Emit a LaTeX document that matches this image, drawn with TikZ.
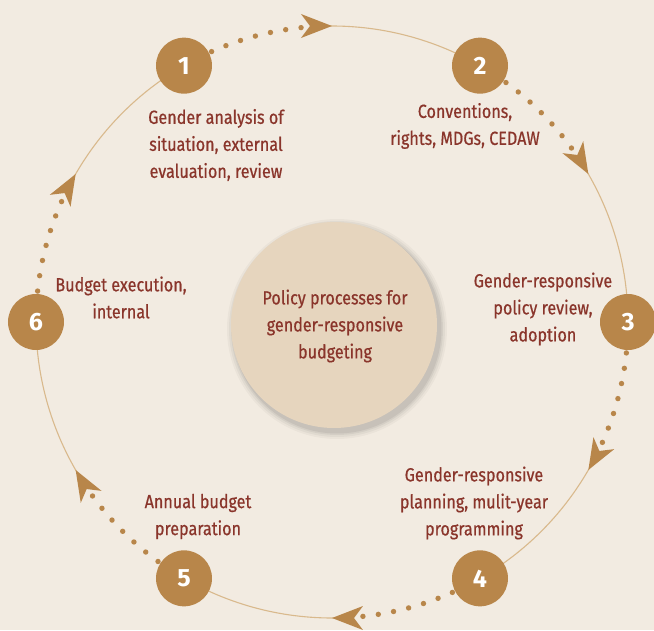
\documentclass[tikz,border=0pt]{standalone}
\usepackage{fontspec}
\setmainfont{Fira Sans}[FakeStretch=0.85,FakeBold=0.6]
\newfontfamily\numfont{Fira Sans}
\usetikzlibrary{arrows.meta}
\definecolor{bgc}{HTML}{F2EBE1}
\definecolor{nodec}{HTML}{B8864A}
\definecolor{txtc}{HTML}{8A352B}
\definecolor{linec}{HTML}{D9B98C}
\definecolor{midc}{HTML}{E6D5BE}
\tikzset{
  numnode/.style={circle, fill=nodec, minimum size=56pt, inner sep=0pt, text=white, font=\numfont\bfseries\fontsize{25}{25}\selectfont},
  lbl/.style={align=center, text=txtc, font=\fontsize{19}{27}\selectfont},
  thinline/.style={draw=linec, line width=1.1pt},
  dotc/.style={fill=nodec},
}
\begin{document}
\begin{tikzpicture}[x=1pt,y=1pt]
\fill[bgc] (-332,-308) rectangle (322,322);
\useasboundingbox (-332,-308) rectangle (322,322);
% segments
\foreach \a in {120,60,0,-60,-120,180}{
  \pgfmathsetmacro{\t}{\a-30}
  \pgfmathsetmacro{\s}{\a-27}
  \pgfmathsetmacro{\e}{\a-60}
  \draw[thinline] (\s:296) arc[start angle=\s, end angle=\e, radius=296];
  \foreach \k in {6,9,...,24}{
    \fill[dotc] (\a-\k:296) circle (2.7);
  }
  \fill[nodec, shift={(\t:296)}, rotate=\t-90] (0,0) -- (-31,12) -- (-22,0) -- (-31,-12) -- cycle;
}
% nodes
\node[numnode] (n1) at (120:296) {1};
\node[numnode] (n2) at (60:296) {2};
\node[numnode] (n3) at (0:296) {3};
\node[numnode] (n4) at (-60:296) {4};
\node[numnode] (n5) at (-120:296) {5};
\node[numnode] (n6) at (180:296) {6};
% center circle with soft shadow
\foreach \r/\o in {110/0.03,108/0.04,106/0.05,104.5/0.06}{
  \fill[black, opacity=\o] (5,-7) circle (\r);
}
\node[circle, fill=midc, minimum size=206pt, inner sep=0pt] (c) at (2,-3) {};
\node[lbl] (ct) at (3,-4) {Policy processes for\\gender-responsive\\budgeting};
% labels
\node[lbl] (l1) at (-116,177) {Gender analysis of\\situation, external\\evaluation, review};
\node[lbl] (l2) at (133,196) {Conventions,\\rights, MDGs, CEDAW};
\node[lbl] (l3) at (211,13) {Gender-responsive\\policy review,\\adoption};
\node[lbl] (l4) at (142,-181) {Gender-responsive\\planning, mulit-year\\programming};
\node[lbl] (l5) at (-134,-194.5) {Annual budget\\preparation};
\node[lbl] (l6) at (-211,24.5) {Budget execution,\\internal};
\end{tikzpicture}
\end{document}
